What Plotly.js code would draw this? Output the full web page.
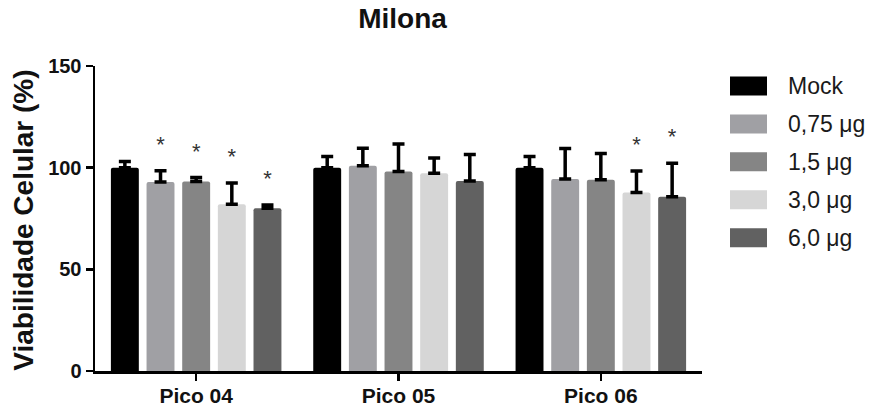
<!DOCTYPE html>
<html>
<head>
<meta charset="utf-8">
<script src="https://cdn.plot.ly/plotly-3.0.1.min.js"></script>
<style>html,body{margin:0;padding:0;background:#fff;}#chart{width:869px;height:410px;}</style>
</head>
<body>
<div id="chart"></div>
<script>
// ---- data ----
const groups = ['Pico 04', 'Pico 05', 'Pico 06'];
const seriesNames = ['Mock', '0,75 μg', '1,5 μg', '3,0 μg', '6,0 μg'];
const mockVals = [100, 100, 100];
const mockErr = [3, 5.5, 5.5];
const mockSig = [0, 0, 0];
const dose075Vals = [93, 101, 94.4];
const dose075Err = [5.5, 8.5, 15];
const dose075Sig = [1, 0, 0];
const dose15Vals = [93.2, 98.1, 94];
const dose15Err = [2, 13.5, 13];
const dose15Sig = [1, 0, 0];
const dose30Vals = [82, 97.3, 87.8];
const dose30Err = [10.5, 7.5, 10.5];
const dose30Sig = [1, 0, 1];
const dose60Vals = [80.1, 93.5, 85.7];
const dose60Err = [1.5, 13, 16.5];
const dose60Sig = [1, 0, 1];
const yTicks = [0, 50, 100, 150];

// ---- style ----
const colors = ['#000000', '#a0a0a4', '#858585', '#d6d6d6', '#616161'];
const FONT = '"Liberation Sans", Arial, Helvetica, sans-serif';
const W = 869, H = 410;
const M = {l: 95, r: 167, t: 66, b: 38.5};
const pw = W - M.l - M.r, ph = H - M.t - M.b;
const barStep = 0.1762, barWidth = 0.138, starOffset = 12;

const vals = [mockVals, dose075Vals, dose15Vals, dose30Vals, dose60Vals];
const errs = [mockErr, dose075Err, dose15Err, dose30Err, dose60Err];
const sigs = [mockSig, dose075Sig, dose15Sig, dose30Sig, dose60Sig];
const gIdx = groups.map((g, i) => i);

const traces = [];
seriesNames.forEach((name, s) => {
  const xs = gIdx.map(i => i + (s - 2) * barStep);
  traces.push({
    type: 'bar', name: name, x: xs, y: vals[s], width: barWidth,
    marker: {color: colors[s], line: {width: 0}},
    error_y: {type: 'data', array: errs[s], arrayminus: errs[s].map(() => 0), symmetric: false,
              color: '#000', thickness: 3.5, width: 6},
    showlegend: false, hoverinfo: 'skip'
  });
});
// significance stars
seriesNames.forEach((name, s) => {
  const sx = [], sy = [];
  gIdx.forEach(i => {
    if (sigs[s][i]) { sx.push(i + (s - 2) * barStep); sy.push(vals[s][i] + errs[s][i] + starOffset); }
  });
  if (sx.length) traces.push({
    type: 'scatter', mode: 'text', x: sx, y: sy, text: sx.map(() => '*'),
    textposition: 'middle center', textfont: {family: FONT, size: 22, color: '#333'},
    showlegend: false, hoverinfo: 'skip', cliponaxis: false
  });
});

// legend drawn as shapes + annotations (built from names/colors)
const px2x = px => (px - M.l) / pw;
const py2y = py => (H - M.b - py) / ph;
const shapes = [], annotations = [];
seriesNames.forEach((name, s) => {
  const cy = 86 + 38 * s;
  shapes.push({type: 'rect', xref: 'paper', yref: 'paper',
    x0: px2x(730), x1: px2x(767), y0: py2y(cy + 9.5), y1: py2y(cy - 9.5),
    fillcolor: colors[s], line: {width: 0}});
  annotations.push({xref: 'paper', yref: 'paper', x: px2x(786), y: py2y(cy),
    xanchor: 'left', yanchor: 'middle', showarrow: false, text: name,
    font: {family: FONT, size: 23, color: '#1a1a1a'}});
});
// y-axis title
annotations.push({xref: 'paper', yref: 'paper', x: px2x(24), y: py2y(221), xanchor: 'center', yanchor: 'middle',
  showarrow: false, textangle: -90, text: '<b>Viabilidade Celular (%)</b>',
  font: {family: FONT, size: 28, color: '#111'}});

const layout = {
  width: W, height: H, margin: M,
  paper_bgcolor: '#fff', plot_bgcolor: '#fff',
  title: {text: '<b>Milona</b>', x: (M.l + pw / 2 + 4) / W, xref: 'container', y: 1 - 18 / H, yanchor: 'middle',
          font: {family: FONT, size: 28, color: '#111'}},
  barmode: 'overlay', barcornerradius: 2,
  xaxis: {range: [-0.5, 2.5], tickvals: gIdx, ticktext: groups.map(g => '<b>' + g + '</b>'),
          showline: true, linecolor: '#000', linewidth: 2.5, ticks: 'outside', ticklen: 7, tickwidth: 2.5,
          tickcolor: '#000', showgrid: false, zeroline: false, fixedrange: true, ticklabelstandoff: -3,
          tickfont: {family: FONT, size: 21, color: '#111'}},
  yaxis: {range: [0, 150], tickvals: yTicks, ticktext: yTicks.map(v => '<b>' + v + '</b>'),
          showline: true, linecolor: '#000', linewidth: 2.5, ticks: 'outside', ticklen: 7, tickwidth: 2.5,
          tickcolor: '#000', showgrid: false, zeroline: false, fixedrange: true,
          tickfont: {family: FONT, size: 20, color: '#111'}},
  shapes: shapes, annotations: annotations, showlegend: false
};
Plotly.newPlot('chart', traces, layout, {staticPlot: true, displayModeBar: false});
</script>
</body>
</html>
